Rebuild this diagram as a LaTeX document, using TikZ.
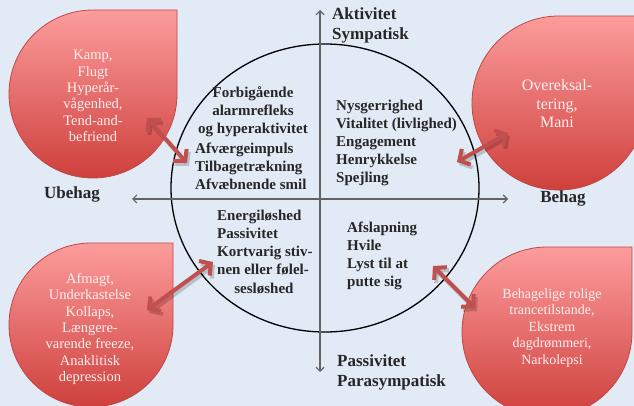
\documentclass[tikz,border=0pt]{standalone}
\usepackage{fontspec}
\setmainfont{Liberation Serif}
\usetikzlibrary{arrows.meta}
\definecolor{bg}{RGB}{226,234,246}
\definecolor{droptop}{RGB}{252,156,156}
\definecolor{dropbot}{RGB}{206,64,60}
\definecolor{dropedge}{RGB}{190,72,70}
\definecolor{arr}{RGB}{192,80,77}
\definecolor{txt}{RGB}{38,38,38}
\definecolor{axiscol}{RGB}{100,100,100}
\definecolor{droptxt}{RGB}{255,240,240}
\begin{document}
\begin{tikzpicture}[x=1pt,y=-1pt,
  drop/.style={draw=dropedge,line width=0.8pt,top color=droptop,bottom color=dropbot},
  droptext/.style={text=droptxt,align=center,font=\fontsize{14.5}{16.4}\selectfont,inner sep=0pt},
  lbl/.style={text=txt,font=\bfseries\fontsize{15}{18}\selectfont,inner sep=0pt},
  axlbl/.style={text=txt,font=\bfseries\fontsize{17}{20}\selectfont,inner sep=0pt,align=left},
  axisline/.style={draw=axiscol,line width=1.2pt,{Straight Barb[length=4pt,width=8pt]}-{Straight Barb[length=4pt,width=8pt]}},
  link/.style={draw=arr,line width=4pt,{Straight Barb[length=8pt,width=18pt]}-{Straight Barb[length=8pt,width=18pt]}},
  linkshadow/.style={draw=black,opacity=0.18,line width=4pt,{Straight Barb[length=8pt,width=18pt]}-{Straight Barb[length=8pt,width=18pt]}}
]
\useasboundingbox (0,0) rectangle (634,406);
\fill[bg] (0,0) rectangle (634,406);
\clip (0,0) rectangle (634,406);

% drops
\path[drop] (177,10) -- (177,94) arc[start angle=0,end angle=270,radius=84] -- cycle;
\path[drop] (646,16) -- (646,103) arc[start angle=0,end angle=270,radius=87] -- cycle;
\path[drop] (173,243) -- (173,325) arc[start angle=0,end angle=270,radius=82] -- cycle;
\path[drop] (632,247) -- (632,332) arc[start angle=0,end angle=270,radius=85] -- cycle;

% circle
\draw[black,line width=1.3pt] (325,188) ellipse [x radius=154,y radius=144];

% axes
\coordinate (vtop) at (320,10);
\coordinate (vbot) at (320,372);
\coordinate (hl) at (132,199);
\coordinate (hr) at (508,199);
\draw[axisline] (vbot) -- (vtop);
\draw[axisline] (hl) -- (hr);

% arrows
\coordinate (a1) at (147,118); \coordinate (a2) at (187,163);
\coordinate (b1) at (508,133); \coordinate (b2) at (457,162);
\coordinate (c1) at (147,310); \coordinate (c2) at (213,262);
\coordinate (d1) at (433,266); \coordinate (d2) at (475,308);
\foreach \p/\q in {a1/a2,b1/b2,c1/c2,d1/d2}{
  \draw[linkshadow] ([shift={(2,3)}]\p) -- ([shift={(2,3)}]\q);
  \draw[link] (\p) -- (\q);
}

% drop texts
\node[droptext] (tl) at (93,96) {Kamp,\\Flugt\\Hyperår-\\vågenhed,\\Tend-and-\\befriend};
\node[droptext,font=\fontsize{16}{18.5}\selectfont] (tr) at (557,104) {Overeksal-\\tering,\\Mani};
\node[droptext] (bl) at (90,329) {Afmagt,\\Underkastelse\\Kollaps,\\Længere-\\varende freeze,\\Anaklitisk\\depression};
\node[droptext,font=\fontsize{14}{16.6}\selectfont] (br) at (552,328) {Behagelige rolige\\trancetilstande,\\Ekstrem\\dagdrømmeri,\\Narkolepsi};

% circle texts
\node[lbl,align=center] (ltA) at (253,112) {Forbigående\\alarmrefleks\\og hyperaktivitet};
\node[lbl,align=left,anchor=west] (ltB) at (195,166) {Afværgeimpuls\\Tilbagetrækning\\Afvæbnende smil};
\node[lbl,align=left,anchor=west] (rt) at (336,143) {Nysgerrighed\\Vitalitet (livlighed)\\Engagement\\Henrykkelse\\Spejling};
\node[lbl,align=left,anchor=west] (lb) at (217,243) {Energiløshed\\Passivitet\\Kortvarig stiv-\\nen eller følel-};
\node[lbl] (lb2) at (264,289) {sesløshed};
\node[lbl,align=left,anchor=west] (rb) at (347,256) {Afslapning\\Hvile\\Lyst til at\\putte sig};

% axis labels
\node[axlbl,anchor=west] (toplbl) at (332,25) {Aktivitet\\Sympatisk};
\node[axlbl,anchor=west] (botlbl) at (337,372) {Passivitet\\Parasympatisk};
\node[axlbl] (leftlbl) at (72,194) {Ubehag};
\node[axlbl] (rightlbl) at (563,198) {Behag};
\end{tikzpicture}
\end{document}
